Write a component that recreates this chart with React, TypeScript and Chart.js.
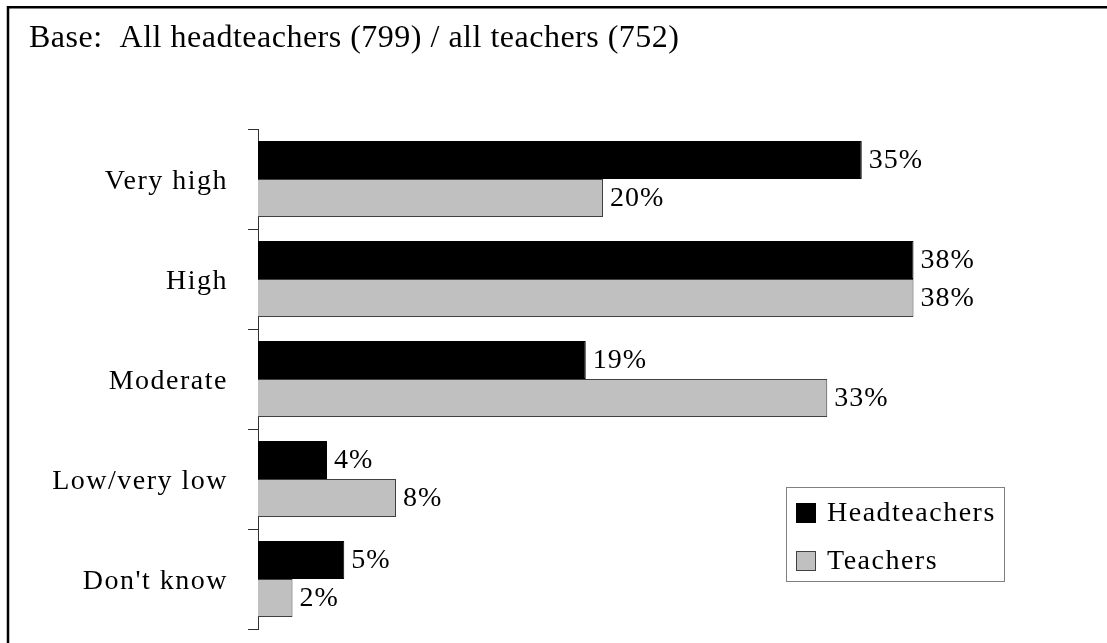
import React, { useEffect, useRef } from "react";
import { Chart, registerables } from "chart.js";

Chart.register(...registerables);

const TITLE = "Base:  All headteachers (799) / all teachers (752)";
const categories = ["Very high", "High", "Moderate", "Low/very low", "Don't know"];
const headteachers = [35, 38, 19, 4, 5];
const teachers = [20, 38, 33, 8, 2];
const seriesNames = ["Headteachers", "Teachers"];
const X_MAX = 44;

const FONT = "'Liberation Serif', 'Times New Roman', serif";

const decor = {
  id: "decor",
  beforeDraw(chart: any) {
    const ctx = chart.ctx;
    ctx.save();
    ctx.fillStyle = "#fff";
    ctx.fillRect(0, 0, chart.width, chart.height);
    ctx.strokeStyle = "#000";
    ctx.lineWidth = 2.5;
    ctx.beginPath();
    ctx.moveTo(8, chart.height);
    ctx.lineTo(8, 7.25);
    ctx.lineTo(chart.width, 7.25);
    ctx.stroke();
    ctx.font = `32px ${FONT}`;
    ctx.letterSpacing = "0.5px";
    ctx.fillStyle = "#000";
    ctx.textBaseline = "alphabetic";
    ctx.textAlign = "left";
    ctx.fillText(TITLE, 29, 47);
    ctx.restore();
    ctx.letterSpacing = "1.5px";
  },
  afterDatasetsDraw(chart: any) {
    const ctx = chart.ctx;
    ctx.save();
    ctx.font = `28px ${FONT}`;
    ctx.letterSpacing = "1px";
    ctx.fillStyle = "#000";
    ctx.textAlign = "left";
    ctx.textBaseline = "middle";
    chart.data.datasets.forEach((ds: any, di: number) => {
      const meta = chart.getDatasetMeta(di);
      meta.data.forEach((el: any, i: number) => {
        ctx.fillText(ds.data[i] + "%", el.x + 7, el.y + 1);
      });
    });
    // legend
    ctx.letterSpacing = "1.5px";
    ctx.strokeStyle = "#808080";
    ctx.lineWidth = 1;
    ctx.strokeRect(786.5, 487.5, 218, 94);
    const ys = [503, 551];
    chart.data.datasets.forEach((ds: any, di: number) => {
      const y = ys[di];
      ctx.fillStyle = ds.backgroundColor;
      ctx.fillRect(796, y, 20, 20);
      ctx.strokeStyle = ds.borderColor;
      ctx.strokeRect(796.5, y + 0.5, 19, 19);
      ctx.fillStyle = "#000";
      ctx.fillText(ds.label, 827, y + 11);
    });
    ctx.restore();
  },
};

export default function App() {
  const ref = useRef<HTMLCanvasElement | null>(null);
  useEffect(() => {
    if (!ref.current) return;
    const chart = new Chart(ref.current, {
      type: "bar",
      data: {
        labels: categories,
        datasets: [
          {
            label: seriesNames[0],
            data: headteachers,
            backgroundColor: "#000000",
            borderColor: "#000000",
            borderWidth: 1,
            categoryPercentage: 0.76,
            barPercentage: 1,
          },
          {
            label: seriesNames[1],
            data: teachers,
            backgroundColor: "#c0c0c0",
            borderColor: "#404040",
            borderWidth: 1,
            categoryPercentage: 0.76,
            barPercentage: 1,
          },
        ],
      },
      options: {
        indexAxis: "y",
        animation: false,
        responsive: false,
        maintainAspectRatio: false,
        devicePixelRatio: 1,
        layout: { padding: { top: 129, bottom: 14, left: 0, right: 1107 - (258 + 17.25 * X_MAX) } },
        plugins: { legend: { display: false }, tooltip: { enabled: false }, title: { display: false } },
        scales: {
          x: { display: false, min: 0, max: X_MAX },
          y: {
            afterFit(scale: any) {
              scale.width = 258;
              scale.paddingTop = 0;
              scale.paddingBottom = 0;
            },
            border: { display: true, color: "#303030", width: 1 },
            grid: {
              display: true,
              offset: true,
              drawOnChartArea: false,
              drawTicks: true,
              tickLength: 10,
              color: "#303030",
              lineWidth: 1,
            },
            ticks: {
              color: "#000",
              padding: 20,
              labelOffset: 3,
              font: { family: FONT, size: 28 },
            },
          },
        },
      },
      plugins: [decor],
    });
    return () => chart.destroy();
  }, []);
  return (
    <div style={{ position: "fixed", left: 0, top: 0, width: 1107, height: 643, background: "#fff" }}>
      <canvas ref={ref} width={1107} height={643} style={{ display: "block" }} />
    </div>
  );
}
